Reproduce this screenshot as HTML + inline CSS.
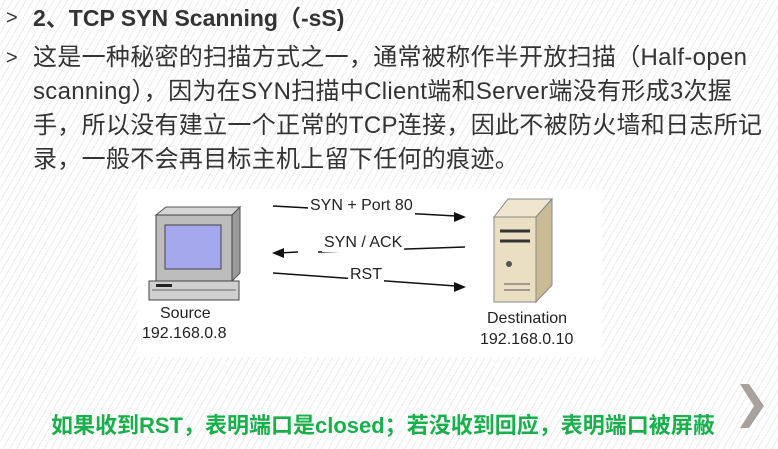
<!DOCTYPE html>
<html><head><meta charset="utf-8"><style>
body{margin:0;width:778px;height:449px;overflow:hidden;position:relative;
background:#fff repeating-linear-gradient(-60deg,#fff 0 5px,#ececec 5px 6px);
font-family:"Liberation Sans","Noto Sans CJK SC",sans-serif;color:#333;}
.l{position:absolute;left:33px;font-size:24px;letter-spacing:0.3px;line-height:34px;white-space:nowrap;}
.g{position:absolute;left:6px;font-size:20px;line-height:34px;}
.d{position:absolute;left:138px;top:189px;width:464px;height:168px;background:#fff;}
.t{position:absolute;font-size:16px;color:#222;white-space:nowrap;}
</style></head><body>
<div class="g" style="top:1px">&gt;</div>
<div class="l" style="top:1px;font-weight:bold;font-size:23px;letter-spacing:0">2、TCP SYN Scanning（-sS)</div>
<div class="g" style="top:41px">&gt;</div>
<div class="l" style="top:41px">这是一种秘密的扫描方式之一，通常被称作半开放扫描（Half-open</div>
<div class="l" style="top:75px">scanning），因为在SYN扫描中Client端和Server端没有形成3次握</div>
<div class="l" style="top:109px">手，所以没有建立一个正常的TCP连接，因此不被防火墙和日志所记</div>
<div class="l" style="top:143px">录，一般不会再目标主机上留下任何的痕迹。</div>
<div class="d">
<svg width="464" height="168" style="position:absolute;left:0;top:0">
<polygon points="18,26 28,18 102,18 94,26" fill="#d6d6d6" stroke="#555"/>
<polygon points="94,26 102,18 102,84 94,92" fill="#9a9a9a" stroke="#555"/>
<rect x="18" y="26" width="76" height="66" fill="#bdbdbd" stroke="#444"/>
<rect x="27" y="36" width="56" height="44" fill="#a6a8ee" stroke="#444"/>
<rect x="11" y="92" width="90" height="19" fill="#d0d0d0" stroke="#444"/>
<line x1="14" y1="101" x2="98" y2="101" stroke="#666"/>
<rect x="18" y="95" width="16" height="3" fill="#222"/>
<polygon points="356,28 370,10 414,10 398,28" fill="#efe6cf" stroke="#888"/>
<polygon points="398,28 414,10 414,96 398,113" fill="#c9bb94" stroke="#888"/>
<rect x="356" y="28" width="42" height="85" fill="#eadfc2" stroke="#888"/>
<line x1="362" y1="42" x2="392" y2="42" stroke="#333" stroke-width="3"/>
<line x1="362" y1="52" x2="392" y2="52" stroke="#333" stroke-width="3"/>
<circle cx="371" cy="75" r="3" fill="#555"/>
<line x1="366" y1="95" x2="392" y2="95" stroke="#555"/>
<line x1="366" y1="101" x2="392" y2="101" stroke="#555"/>
<line x1="135" y1="17" x2="318" y2="27" stroke="#111" stroke-width="1.5"/>
<polygon points="328,28 316,23 316,33" fill="#111"/>
<line x1="180" y1="63" x2="327" y2="58" stroke="#111" stroke-width="1.5"/>
<line x1="140" y1="64" x2="160" y2="63" stroke="#111" stroke-width="1.5"/>
<polygon points="134,64 146,59 146,69" fill="#111"/>
<line x1="135" y1="84" x2="318" y2="97" stroke="#111" stroke-width="1.5"/>
<polygon points="328,98 316,93 316,103" fill="#111"/>
</svg>
<div class="t" style="left:170px;top:8px;background:#fff;padding:0 2px">SYN + Port 80</div>
<div class="t" style="left:184px;top:45px;background:#fff;padding:0 2px">SYN / ACK</div>
<div class="t" style="left:210px;top:77px;background:#fff;padding:0 2px">RST</div>
<div class="t" style="left:22px;top:116px">Source</div>
<div class="t" style="left:4px;top:136px">192.168.0.8</div>
<div class="t" style="left:349px;top:121px">Destination</div>
<div class="t" style="left:342px;top:142px">192.168.0.10</div>
</div>
<div style="position:absolute;left:51px;top:408px;font-size:22px;font-weight:bold;color:#17b04a;white-space:nowrap">如果收到RST，表明端口是closed；若没收到回应，表明端口被屏蔽</div>
<svg style="position:absolute;left:740px;top:384px" width="26" height="44"><polygon points="0,0 9,0 24,22 9,44 0,44 14,22" fill="#a9a29c"/></svg>
</body></html>
